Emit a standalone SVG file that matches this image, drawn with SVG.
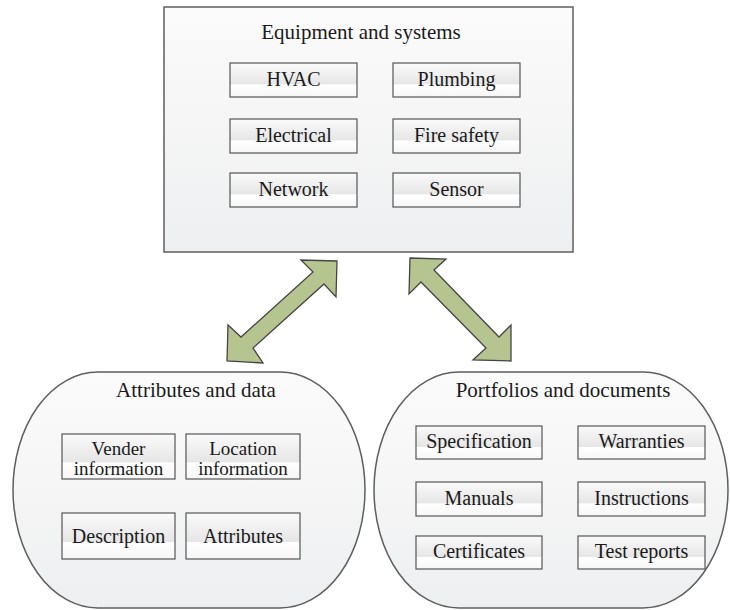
<svg xmlns="http://www.w3.org/2000/svg" width="730" height="610" viewBox="0 0 730 610">
  <defs>
    <linearGradient id="panelFill" x1="0" y1="0" x2="0" y2="1">
      <stop offset="0" stop-color="#fbfbfb"/>
      <stop offset="1" stop-color="#eeeff0"/>
    </linearGradient>
    <linearGradient id="itemFill" x1="0" y1="0" x2="0" y2="1">
      <stop offset="0" stop-color="#fafafa"/>
      <stop offset="0.62" stop-color="#e6e6e6"/>
      <stop offset="0.64" stop-color="#ffffff"/>
      <stop offset="1" stop-color="#f6f6f6"/>
    </linearGradient>
  </defs>
  <style>
    .panel { fill: url(#panelFill); stroke: #5f5f5f; stroke-width: 1.5; }
    .item { fill: url(#itemFill); stroke: #555555; stroke-width: 1.2; }
    .arrow { fill: #b6c48f; stroke: #454545; stroke-width: 1.3; stroke-linejoin: miter; }
  </style>
  <rect width="730" height="610" fill="#ffffff"/>

  <g font-family="Liberation Serif, Times New Roman, serif" fill="#1a1a1a" text-anchor="middle" font-size="20">
  <!-- Equipment and systems -->
  <g id="equipment">
    <rect class="panel" x="164" y="7" width="409" height="245"/>
    <text font-size="21" x="361" y="39">Equipment and systems</text>
    <g id="hvac"><rect class="item" x="230" y="63" width="127" height="34"/><text x="293.5" y="86">HVAC</text></g>
    <g id="plumbing"><rect class="item" x="393" y="63" width="127" height="34"/><text x="456.5" y="86">Plumbing</text></g>
    <g id="electrical"><rect class="item" x="230" y="119" width="127" height="34"/><text x="293.5" y="142">Electrical</text></g>
    <g id="fire-safety"><rect class="item" x="393" y="119" width="127" height="34"/><text x="456.5" y="142">Fire safety</text></g>
    <g id="network"><rect class="item" x="230" y="173" width="127" height="34"/><text x="293.5" y="196">Network</text></g>
    <g id="sensor"><rect class="item" x="393" y="173" width="127" height="34"/><text x="456.5" y="196">Sensor</text></g>
  </g>

  <!-- Attributes and data -->
  <g id="attributes-data">
    <rect class="panel" x="13" y="372" width="352" height="236" rx="85" ry="118"/>
    <text font-size="21" x="196" y="397">Attributes and data</text>
    <g id="vender" font-size="19"><rect class="item" x="62" y="434" width="113" height="45"/><text x="118.5" y="455">Vender</text><text x="118.5" y="475">information</text></g>
    <g id="location" font-size="19"><rect class="item" x="186" y="434" width="114" height="45"/><text x="243" y="455">Location</text><text x="243" y="475">information</text></g>
    <g id="description"><rect class="item" x="62" y="513" width="113" height="46"/><text x="118.5" y="543">Description</text></g>
    <g id="attributes"><rect class="item" x="186" y="513" width="114" height="46"/><text x="243" y="543">Attributes</text></g>
  </g>

  <!-- Portfolios and documents -->
  <g id="portfolios">
    <rect class="panel" x="374" y="372" width="354" height="236" rx="85" ry="118"/>
    <text font-size="21" x="563" y="397">Portfolios and documents</text>
    <g id="specification"><rect class="item" x="416" y="426" width="126" height="33"/><text x="479" y="448">Specification</text></g>
    <g id="warranties"><rect class="item" x="578" y="426" width="127" height="33"/><text x="641.5" y="448">Warranties</text></g>
    <g id="manuals"><rect class="item" x="416" y="482" width="126" height="34"/><text x="479" y="505">Manuals</text></g>
    <g id="instructions"><rect class="item" x="578" y="482" width="127" height="34"/><text x="641.5" y="505">Instructions</text></g>
    <g id="certificates"><rect class="item" x="416" y="536" width="126" height="33"/><text x="479" y="558">Certificates</text></g>
    <g id="test-reports"><rect class="item" x="578" y="536" width="127" height="33"/><text x="641.5" y="558">Test reports</text></g>
  </g>
  </g>

  <!-- double-headed block arrows between the panels -->
  <g id="connectors">
    <polygon class="arrow" points="337,261 336,297 324,284 253,348 263,363 227,361 228,325 241,337 313,272 301,260"/>
    <polygon class="arrow" points="410,258 446,259 434,270 499,337 511,325 511,361 473,360 486,348 421,282 409,294"/>
  </g>
</svg>
